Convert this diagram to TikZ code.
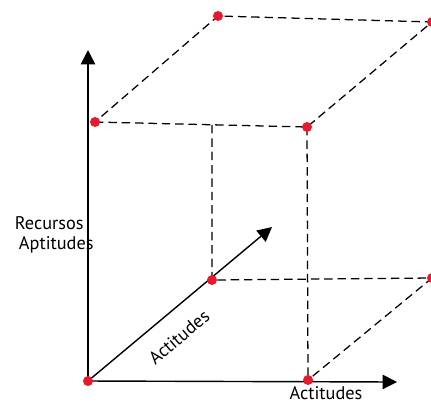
\documentclass[tikz,border=0pt]{standalone}
\usepackage{fontspec}
\setmainfont{PT Sans}
\usetikzlibrary{arrows.meta, positioning, backgrounds}
\definecolor{dotred}{HTML}{E8192C}

\begin{document}
\begin{tikzpicture}[x=0.025cm, y=-0.025cm, font=\fontsize{13}{15}\selectfont,
    pt/.style={circle, fill=dotred, inner sep=0pt, minimum size=0.25cm},
    axis/.style={line width=1pt, -{Triangle[length=0.36cm, width=0.36cm]}},
    guide/.style={line width=0.9pt, dash pattern=on 6pt off 3.5pt}]
\useasboundingbox (0,0) rectangle (431,403);
% corner points of the box
\node[pt] (o) at (88,381) {};
\node[pt] (p) at (308,380) {};
\node[pt] (q) at (212,280) {};
\node[pt] (r) at (432,278) {};
\node[pt] (a) at (95,122) {};
\node[pt] (b) at (307,127) {};
\node[pt] (c) at (218,16) {};
\node[pt] (d) at (432,22) {};
\coordinate (m) at (212,125);
\coordinate (ytip) at (88,50);
\coordinate (xtip) at (397,382);
\coordinate (ztip) at (272,227);
\begin{scope}[on background layer]
    \draw[axis] (o.center) -- (ytip);
    \draw[axis] (o.center) -- (xtip);
    \draw[axis] (o.center) -- (ztip);
    \draw[guide] (a.center) -- (b.center) -- (d.center) -- (c.center) -- cycle;
    \draw[guide] (b.center) -- (p.center);
    \draw[guide] (m) -- (q.center) -- (r.center) -- (p.center);
\end{scope}
% labels
\node[anchor=west] (rec) at (10,223) {Recursos};
\node[anchor=west] (apt) at (14,245) {Aptitudes};
\node (xlab) at (326,393) {Actitudes};
\node[rotate=40] (zlab) at (179,337) {Actitudes};
\end{tikzpicture}
\end{document}
